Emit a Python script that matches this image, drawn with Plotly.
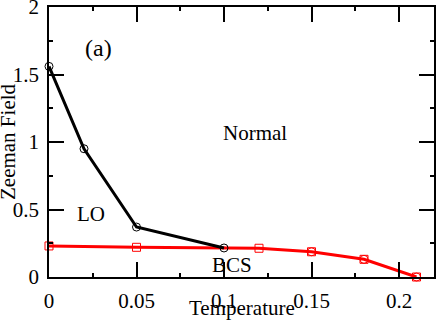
import plotly.graph_objects as go

# Data
lo_T = [0.0, 0.02, 0.05, 0.10]
lo_H = [1.56, 0.95, 0.37, 0.215]

bcs_T = [0.0, 0.05, 0.12, 0.15, 0.18, 0.21]
bcs_H = [0.23, 0.22, 0.213, 0.187, 0.131, 0.0]

bcs_circ_T = [0.15, 0.18, 0.21]
bcs_circ_H = [0.187, 0.131, 0.0]

x_ticks = [0, 0.05, 0.1, 0.15, 0.2]
x_ticktext = ["0", "0.05", "0.1", "0.15", "0.2"]
y_ticks = [0, 0.5, 1, 1.5, 2]
y_ticktext = ["0", "0.5", "1", "1.5", "2"]

labels = ["(a)", "Normal", "LO", "BCS"]
label_x = [0.0285, 0.1175, 0.024, 0.1047]
label_y = [1.70, 1.07, 0.47, 0.09]
label_size = [24, 21, 21, 21]

FONT = "Liberation Serif"

fig = go.Figure()
fig.add_trace(go.Scatter(
    x=bcs_T, y=bcs_H, mode="lines+markers",
    line=dict(color="#ff0000", width=3),
    marker=dict(symbol="square-open", size=8, color="#ff0000", line=dict(width=1)),
    showlegend=False, cliponaxis=False))
fig.add_trace(go.Scatter(
    x=bcs_circ_T, y=bcs_circ_H, mode="markers",
    marker=dict(symbol="circle-open", size=8, color="#ff0000", line=dict(width=1)),
    showlegend=False, cliponaxis=False))
fig.add_trace(go.Scatter(
    x=lo_T, y=lo_H, mode="lines+markers",
    line=dict(color="#000000", width=3),
    marker=dict(symbol="circle-open", size=8, color="#000000", line=dict(width=1)),
    showlegend=False, cliponaxis=False))

for t, x, y, s in zip(labels, label_x, label_y, label_size):
    fig.add_annotation(x=x, y=y, text=t, showarrow=False,
                       font=dict(family=FONT, size=s, color="black"))

# axis titles as annotations for exact placement
fig.add_annotation(xref="paper", yref="paper", x=0.5, y=0, yshift=-31,
                   text="Temperature", showarrow=False, yanchor="middle",
                   font=dict(family=FONT, size=21, color="black"))
fig.add_annotation(xref="paper", yref="paper", x=0, xshift=-41, y=0.5,
                   text="Zeeman Field", showarrow=False, textangle=-90,
                   xanchor="center", font=dict(family=FONT, size=21, color="black"))

axis_common = dict(
    showgrid=False, zeroline=False, showline=True, linecolor="black", linewidth=1.5,
    mirror="allticks", ticks="inside", ticklen=15, tickwidth=2, tickcolor="black",
    tickfont=dict(family=FONT, size=21, color="black"),
    automargin=False, ticklabeloverflow="allow", ticklabelstandoff=4,
)

fig.update_xaxes(range=[0, 0.22], tickmode="array", tickvals=x_ticks, ticktext=x_ticktext,
                 minor=dict(ticks="inside", ticklen=4, tickwidth=2, tickcolor="black",
                            tick0=0, dtick=0.025),
                 **axis_common)
fig.update_yaxes(range=[0, 2], tickmode="array", tickvals=y_ticks, ticktext=y_ticktext,
                 minor=dict(ticks="inside", ticklen=4, tickwidth=2, tickcolor="black",
                            tick0=0, dtick=0.25),
                 **axis_common)

fig.update_layout(
    width=436, height=320,
    margin=dict(l=49, r=2, t=7, b=43),
    plot_bgcolor="white", paper_bgcolor="white",
    font=dict(family=FONT, color="black"),
)

fig.write_html("out.html", config={"displayModeBar": False},
               post_script="document.body.style.margin='0';document.body.style.padding='0';")
